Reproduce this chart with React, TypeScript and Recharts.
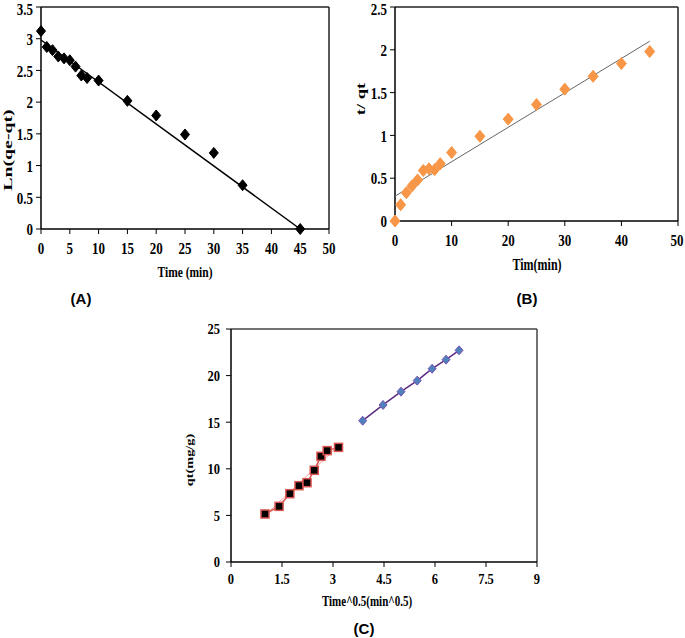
import { ScatterChart, Scatter, XAxis, YAxis, ReferenceLine } from "recharts";

// (A) pseudo-first-order
const timeA = [0, 1, 2, 3, 4, 5, 6, 7, 8, 10, 15, 20, 25, 30, 35, 45];
const lnA = [3.12, 2.87, 2.82, 2.72, 2.69, 2.66, 2.56, 2.42, 2.38, 2.34, 2.02, 1.79, 1.49, 1.2, 0.69, 0.0];
const fitA = [
  { x: 0, y: 2.98 },
  { x: 45, y: 0 },
];

// (B) pseudo-second-order
const timeB = [0, 1, 2, 3, 4, 5, 6, 7, 8, 10, 15, 20, 25, 30, 35, 40, 45];
const tqB = [0, 0.19, 0.33, 0.41, 0.48, 0.59, 0.61, 0.6, 0.67, 0.8, 0.99, 1.19, 1.36, 1.54, 1.69, 1.84, 1.98];
const fitB = [
  { x: 0, y: 0.29 },
  { x: 45, y: 2.1 },
];

// (C) intraparticle diffusion
const sqrtT1 = [1, 1.414, 1.732, 2, 2.236, 2.449, 2.646, 2.828, 3.162];
const qt1 = [5.15, 5.97, 7.33, 8.19, 8.51, 9.84, 11.34, 11.95, 12.3];
const fitC1 = [
  { x: 1, y: 5.0 },
  { x: 3.162, y: 12.45 },
];
const sqrtT2 = [3.873, 4.472, 5, 5.477, 5.916, 6.325, 6.708];
const qt2 = [15.16, 16.85, 18.28, 19.46, 20.74, 21.71, 22.71];

const ticksA_x = [0, 5, 10, 15, 20, 25, 30, 35, 40, 45, 50];
const ticksA_y = [0, 0.5, 1, 1.5, 2, 2.5, 3, 3.5];
const ticksB_x = [0, 10, 20, 30, 40, 50];
const ticksB_y = [0, 0.5, 1, 1.5, 2, 2.5];
const ticksC_x = [0, 1.5, 3, 4.5, 6, 7.5, 9];
const ticksC_y = [0, 5, 10, 15, 20, 25];

const zip = (xs: number[], ys: number[]) => xs.map((x, i) => ({ x, y: ys[i] }));

const serif = "'Liberation Serif', 'Times New Roman', serif";

// the source figure is stretched vertically, so the text is drawn tall and narrow
function makeTick(axis: "x" | "y", size: number, sy: number) {
  return (props: any) => {
    const { x, y, payload } = props;
    return (
      <g transform={`translate(${x},${y}) scale(1,${sy})`}>
        <text
          x={0}
          y={0}
          dy={axis === "x" ? "0.71em" : "0.355em"}
          textAnchor={axis === "x" ? "middle" : "end"}
          fontFamily={serif}
          fontWeight={700}
          fontSize={size}
          fill="#000"
        >
          {payload.value}
        </text>
      </g>
    );
  };
}

function diamond(fill: string, stroke: string, w: number, h: number) {
  return (props: any) => {
    const { cx, cy } = props;
    if (cx == null || cy == null) return <g />;
    return (
      <polygon
        points={`${cx},${cy - h} ${cx + w},${cy} ${cx},${cy + h} ${cx - w},${cy}`}
        fill={fill}
        stroke={stroke}
        strokeWidth={1}
      />
    );
  };
}

function square(props: any) {
  const { cx, cy } = props;
  if (cx == null || cy == null) return <g />;
  return <rect x={cx - 4} y={cy - 4} width={8} height={8} fill="#000" stroke="#d9534f" strokeWidth={1.5} />;
}

const noDot = () => <g />;

function Title({ x, y, text, rotate, size = 12, stretch = 1.35, sans }: { x: number; y: number; text: string; rotate?: boolean; size?: number; stretch?: number; sans?: boolean }) {
  const tf = sans
    ? "translate(-50%, -50%)"
    : rotate
    ? `translate(-50%, -50%) rotate(-90deg) scaleX(${stretch})`
    : `translate(-50%, -50%) scaleY(${stretch})`;
  return (
    <div
      style={{
        position: "absolute",
        left: x,
        top: y,
        transform: tf,
        fontFamily: sans ? "'Liberation Sans', Arial, sans-serif" : serif,
        fontWeight: 700,
        fontSize: size,
        lineHeight: 1,
        whiteSpace: "nowrap",
        color: "#000",
      }}
    >
      {text}
    </div>
  );
}

const axisStroke = { stroke: "#000", strokeWidth: 1.5 };

export default function App() {
  return (
    <div style={{ position: "absolute", left: 0, top: 0, width: 685, height: 638, background: "#fff" }}>
      {/* (A) */}
      <div style={{ position: "absolute", left: 0, top: 0 }}>
        <ScatterChart width={340} height={290} margin={{ top: 7, right: 11, left: 0, bottom: 0 }}>
          <XAxis
            type="number"
            dataKey="x"
            domain={[0, 50]}
            ticks={ticksA_x}
            height={61}
            tick={makeTick("x", 13, 1.35)}
            tickSize={5}
            tickMargin={8}
            axisLine={axisStroke}
            tickLine={{ stroke: "#000" }}
          />
          <YAxis
            type="number"
            dataKey="y"
            domain={[0, 3.5]}
            ticks={ticksA_y}
            width={41}
            tick={makeTick("y", 13, 1.35)}
            tickSize={5}
            tickMargin={3}
            axisLine={axisStroke}
            tickLine={{ stroke: "#000" }}
          />
          <ReferenceLine y={3.5} stroke="#222" strokeWidth={1.5} />
          <ReferenceLine x={50} stroke="#222" strokeWidth={1.5} />
          <Scatter data={fitA} line={{ stroke: "#000", strokeWidth: 1.5 }} shape={noDot} isAnimationActive={false} />
          <Scatter data={zip(timeA, lnA)} shape={diamond("#000", "#000", 4.5, 5.5)} isAnimationActive={false} />
        </ScatterChart>
      </div>
      <Title x={8} y={150} text="Ln(qe-qt)" rotate stretch={1.65} />
      <Title x={185} y={273} text="Time (min)" size={11.5} />
      <Title x={81} y={298} text="(A)" sans size={15} />

      {/* (B) */}
      <div style={{ position: "absolute", left: 345, top: 0 }}>
        <ScatterChart width={340} height={290} margin={{ top: 7, right: 7, left: 0, bottom: 0 }}>
          <XAxis
            type="number"
            dataKey="x"
            domain={[0, 50]}
            ticks={ticksB_x}
            height={69}
            tick={makeTick("x", 13, 1.35)}
            tickSize={5}
            tickMargin={8}
            axisLine={axisStroke}
            tickLine={{ stroke: "#000" }}
          />
          <YAxis
            type="number"
            dataKey="y"
            domain={[0, 2.5]}
            ticks={ticksB_y}
            width={50}
            tick={makeTick("y", 13, 1.35)}
            tickSize={5}
            tickMargin={3}
            axisLine={axisStroke}
            tickLine={{ stroke: "#000" }}
          />
          <ReferenceLine y={2.5} stroke="#222" strokeWidth={1.5} />
          <ReferenceLine x={50} stroke="#222" strokeWidth={1.5} />
          <Scatter data={fitB} line={{ stroke: "#666", strokeWidth: 1 }} shape={noDot} isAnimationActive={false} />
          <Scatter data={zip(timeB, tqB)} shape={diamond("#f79646", "#f79646", 5, 6)} isAnimationActive={false} />
        </ScatterChart>
      </div>
      <Title x={361} y={99} text="t/ qt" rotate stretch={1.55} />
      <Title x={537} y={265} text="Tim(min)" />
      <Title x={527} y={298} text="(B)" sans size={15} />

      {/* (C) */}
      <div style={{ position: "absolute", left: 180, top: 300 }}>
        <ScatterChart width={380} height={300} margin={{ top: 29, right: 23, left: 0, bottom: 0 }}>
          <XAxis
            type="number"
            dataKey="x"
            domain={[0, 9]}
            ticks={ticksC_x}
            height={38}
            tick={makeTick("x", 12.5, 1.2)}
            tickSize={5}
            tickMargin={6}
            axisLine={axisStroke}
            tickLine={{ stroke: "#000" }}
          />
          <YAxis
            type="number"
            dataKey="y"
            domain={[0, 25]}
            ticks={ticksC_y}
            width={51}
            tick={makeTick("y", 12.5, 1.2)}
            tickSize={5}
            tickMargin={6}
            axisLine={axisStroke}
            tickLine={{ stroke: "#000" }}
          />
          <ReferenceLine y={25} stroke="#444" strokeWidth={1.5} />
          <ReferenceLine x={9} stroke="#444" strokeWidth={1.5} />
          <Scatter data={fitC1} line={{ stroke: "#f2a0a0", strokeWidth: 1 }} shape={noDot} isAnimationActive={false} />
          <Scatter data={zip(sqrtT1, qt1)} line={{ stroke: "#d9534f", strokeWidth: 1.5 }} shape={square} isAnimationActive={false} />
          <Scatter data={zip(sqrtT2, qt2)} line={{ stroke: "#5b2c83", strokeWidth: 1.5 }} shape={diamond("#4f81bd", "#7a52b3", 4, 4.5)} isAnimationActive={false} />
        </ScatterChart>
      </div>
      <Title x={189} y={460} text="qt(mg/g)" rotate size={11} stretch={1.3} />
      <Title x={367} y={601} text="Time^0.5(min^0.5)" size={11} stretch={1.3} />
      <Title x={364} y={628} text="(C)" sans size={15} />
    </div>
  );
}
